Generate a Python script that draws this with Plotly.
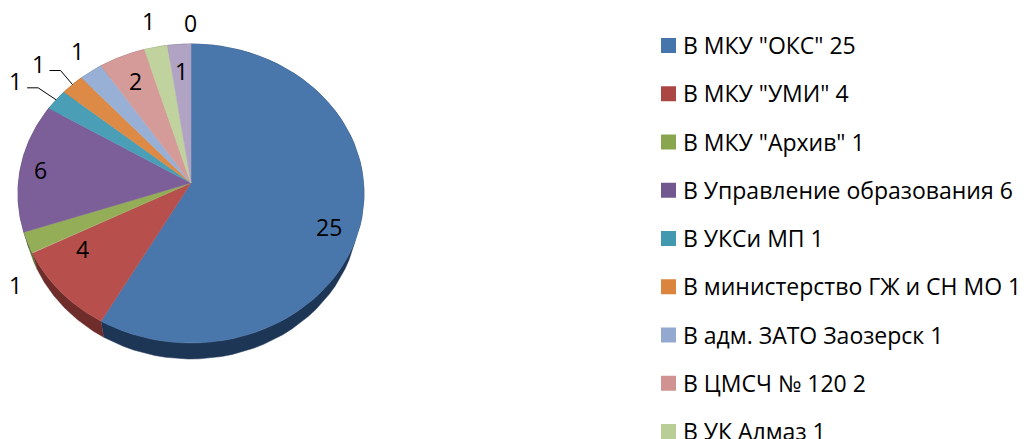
import numpy as np
import plotly.graph_objects as go

# --- data ---
values = [25, 4, 1, 6, 1, 1, 1, 2, 1, 1, 0]
legend_names = ['В МКУ "ОКС" 25', 'В МКУ "УМИ" 4', 'В МКУ "Архив" 1',
                'В Управление образования 6', 'В УКСи МП 1', 'В министерство ГЖ и СН МО 1',
                'В адм. ЗАТО Заозерск 1', 'В ЦМСЧ № 120 2', 'В УК Алмаз 1']
top_colors = ['#4a77ab', '#b7504c', '#93ae57', '#7c5f99', '#4a9fb6', '#dc8a45',
              '#98b0d5', '#d49b99', '#c0d29d', '#b0a3c4', '#7f7f7f']
side_colors = ['#1e3655', '#6e2c2a', '#5a7032', '#4a3a5e', '#2c6070', '#85522a',
               '#5c6a80', '#7f5d5c', '#74805e', '#6a6276', '#4c4c4c']
legend_colors = ['#4675ab', '#aa4644', '#89a54e', '#71588f', '#4198af', '#db843d',
                 '#93a9cf', '#d19392', '#b9cd96']

# --- style / layout constants (pixels) ---
W, H = 1026, 439
CX, CY, RX, RY, PERSP, DEPTH, LOWER_SCALE = 191, 183, 172.6, 148.8, 0.0702, 16, 0.97
FONT = 'Open Sans'
FS = 23
LABEL_OFF = [(-32, 6), (22, -43), (-12, 42), (20, 3), (-41, -19), (-34, -21),
             (-14, -20), (13, 25), (-7, -26), (2, 27), (-1, -21)]
LEADERS = {4: [(-29, -12), (-18, -12)], 5: [(-23, -14), (-12, -14)]}
LEG_X, LEG_Y0, LEG_STEP = 668.5, 45, 48.25
LEG_TEXT_X = 680.5


def project(theta, r=1.0):
    u, v = r * np.sin(theta), r * np.cos(theta)
    f = 1 + PERSP * v
    return CX + RX * u / f, CY - RY * v / f


total = sum(values)
edges = np.cumsum([0] + values) / total * 2 * np.pi

fig = go.Figure()

# side walls first
for i, val in enumerate(values):
    if val == 0:
        continue
    t = np.linspace(edges[i], edges[i + 1], 60)
    x, y = project(t)
    xl = CX + (x - CX) * LOWER_SCALE
    fig.add_trace(go.Scatter(
        x=np.r_[x, xl[::-1]], y=np.r_[y, y[::-1] + DEPTH], mode='lines', fill='toself',
        fillcolor=side_colors[i], line=dict(color=side_colors[i], width=0.5),
        hoverinfo='skip', showlegend=False))

# top surface
for i, val in enumerate(values):
    if val == 0:
        continue
    t = np.linspace(edges[i], edges[i + 1], 80)
    x, y = project(t)
    fig.add_trace(go.Scatter(
        x=np.r_[CX, x, CX], y=np.r_[CY, y, CY], mode='lines', fill='toself',
        fillcolor=top_colors[i], line=dict(color=top_colors[i], width=0.5),
        hoverinfo='skip', showlegend=False))

# data labels, anchored on the rim at each slice's middle angle
mids = (edges[:-1] + edges[1:]) / 2
ax, ay = project(mids)
for i, val in enumerate(values):
    dx, dy = LABEL_OFF[i]
    if i in LEADERS:
        pts = LEADERS[i]
        fig.add_trace(go.Scatter(
            x=[ax[i] + pts[0][0], ax[i] + pts[1][0], ax[i]],
            y=[ay[i] + pts[0][1], ay[i] + pts[1][1], ay[i]],
            mode='lines', line=dict(color='black', width=1), hoverinfo='skip', showlegend=False))
    fig.add_annotation(x=ax[i] + dx, y=ay[i] + dy, text=str(val), showarrow=False,
                       font=dict(family=FONT, size=FS, color='black'))

# legend
for i, name in enumerate(legend_names):
    yy = LEG_Y0 + i * LEG_STEP
    fig.add_trace(go.Scatter(
        x=[LEG_X], y=[yy + 0.5], mode='markers', cliponaxis=False,
        marker=dict(symbol='square', size=15, color=legend_colors[i]),
        hoverinfo='skip', showlegend=False))
    fig.add_annotation(x=LEG_TEXT_X, y=yy, text=name, showarrow=False, xanchor='left',
                       font=dict(family=FONT, size=FS, color='black'))

fig.update_layout(
    width=W, height=H, margin=dict(l=0, r=0, t=0, b=0),
    paper_bgcolor='white', plot_bgcolor='white', showlegend=False,
    xaxis=dict(range=[0, W], visible=False, fixedrange=True),
    yaxis=dict(range=[H, 0], visible=False, fixedrange=True),
)
fig.write_html("out.html", config=dict(displayModeBar=False),
               post_script="document.body.style.margin='0';document.body.style.overflow='hidden';")
